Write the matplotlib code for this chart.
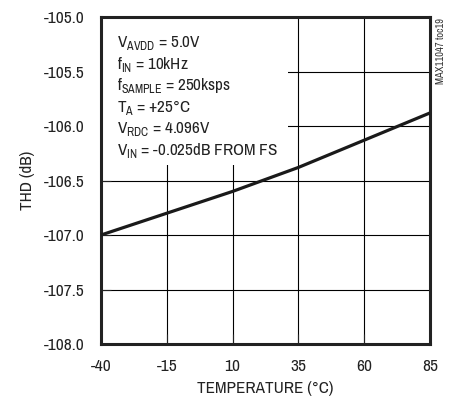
import matplotlib
matplotlib.use("Agg")
import matplotlib.pyplot as plt
from matplotlib import font_manager
from matplotlib.patches import Rectangle

# data
temps = [-40, -15, 10, 35, 60, 85]
thd = [-107.0, -106.80, -106.60, -106.38, -106.13, -105.88]
x_ticks = [-40, -15, 10, 35, 60, 85]
y_ticks = [-108.0, -107.5, -107.0, -106.5, -106.0, -105.5, -105.0]
conditions = [
    ("V", "AVDD", " = 5.0V"),
    ("f", "IN", " = 10kHz"),
    ("f", "SAMPLE", " = 250ksps"),
    ("T", "A", " = +25°C"),
    ("V", "RDC", " = 4.096V"),
    ("V", "IN", " = -0.025dB FROM FS"),
]

# a narrow sans, like the datasheet font
names = {f.name for f in font_manager.fontManager.ttflist}
fam = "Liberation Sans"
for cand in ["Archivo Narrow", "Liberation Sans Narrow", "Asap Condensed"]:
    if cand in names:
        fam = cand
        break
plt.rcParams["font.family"] = [fam, "DejaVu Sans"]
plt.rcParams["axes.unicode_minus"] = False
plt.rcParams["mathtext.fontset"] = "custom"
plt.rcParams["mathtext.rm"] = fam

fig = plt.figure(figsize=(4.56, 4.05), dpi=100)
ax = fig.add_axes([0.2215, 0.1506, 0.943 - 0.2215, 0.958 - 0.1506])

for t in x_ticks[1:-1]:
    ax.axvline(t, color="black", lw=0.8, zorder=1)
for v in y_ticks[1:-1]:
    ax.axhline(v, color="black", lw=0.8, zorder=1)

ax.plot(temps, thd, color="#1a1a1a", lw=2.3, zorder=4, solid_capstyle="butt")

ax.set_xlim(-40, 85)
ax.set_ylim(-108, -105)
ax.set_xticks(x_ticks)
ax.set_xticklabels([str(t) for t in x_ticks])
ax.set_yticks(y_ticks)
ax.set_yticklabels([f"{v:.1f}" for v in y_ticks])
ax.tick_params(direction="in", length=7, width=0.8, labelsize=12.5, colors="#222222")
ax.tick_params(axis="y", pad=12)
ax.tick_params(axis="x", pad=11)
for s in ax.spines.values():
    s.set_linewidth(2.2)
    s.set_color("#222222")

ax.set_xlabel("TEMPERATURE (°C)", fontsize=12.3, color="#222222", labelpad=5)
ax.set_ylabel("THD (dB)", fontsize=12.3, color="#222222", labelpad=6)

# white panel behind the conditions text
ax.add_patch(Rectangle((0, 0.547), 0.568, 0.453, transform=ax.transAxes,
                       facecolor="white", edgecolor="none", zorder=2))

for i, (a, sub, rest) in enumerate(conditions):
    yb = (344 - (47 + 21.6 * i)) / 327
    ax.text(0.0486, yb, a + r"$_{\mathrm{%s}}$" % sub + rest, transform=ax.transAxes,
            ha="left", va="baseline", fontsize=12.3, color="#222222", zorder=3)

fig.text(0.968, 0.955, "MAX11047 toc19", rotation=90, ha="center", va="top",
         fontsize=7.5, color="#333333")

fig.savefig("out.png", dpi=100)
